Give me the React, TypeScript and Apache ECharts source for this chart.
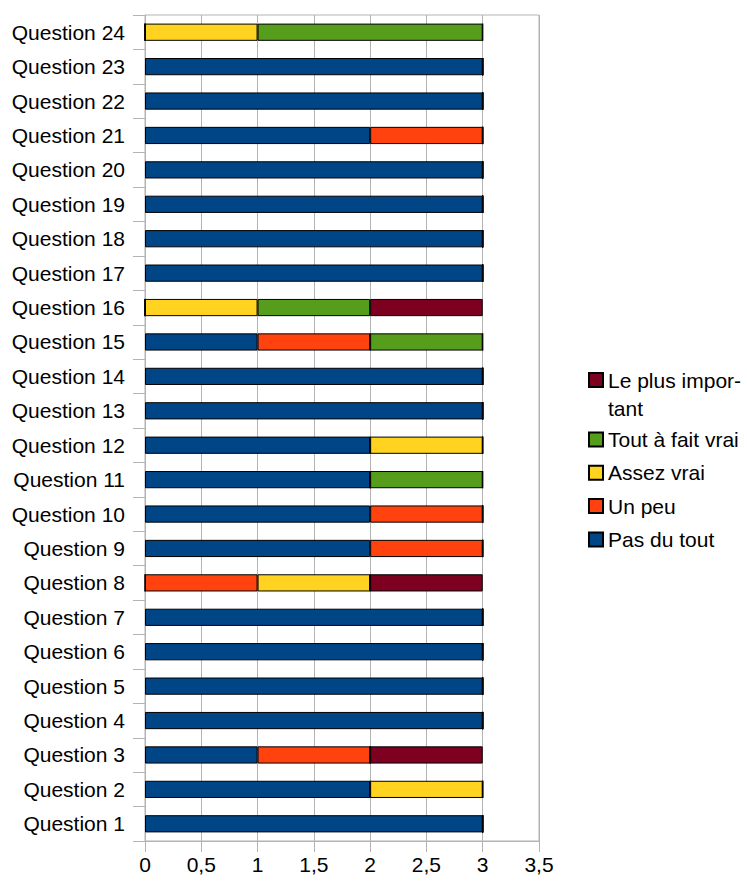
import React, { useEffect, useRef } from "react";
import * as echarts from "echarts";

const categories = Array.from({ length: 24 }, (_, i) => `Question ${i + 1}`);

// values per question (Question 1 .. Question 24)
const pasDuTout = [3, 2, 1, 3, 3, 3, 3, 0, 2, 2, 2, 2, 3, 3, 1, 0, 3, 3, 3, 3, 2, 3, 3, 0];
const unPeu = [0, 0, 1, 0, 0, 0, 0, 1, 1, 1, 0, 0, 0, 0, 1, 0, 0, 0, 0, 0, 1, 0, 0, 0];
const assezVrai = [0, 1, 0, 0, 0, 0, 0, 1, 0, 0, 0, 1, 0, 0, 0, 1, 0, 0, 0, 0, 0, 0, 0, 1];
const toutAFaitVrai = [0, 0, 0, 0, 0, 0, 0, 0, 0, 0, 1, 0, 0, 0, 1, 1, 0, 0, 0, 0, 0, 0, 0, 2];
const lePlusImportant = [0, 0, 1, 0, 0, 0, 0, 1, 0, 0, 0, 0, 0, 0, 0, 1, 0, 0, 0, 0, 0, 0, 0, 0];

const seriesNames = ["Pas du tout", "Un peu", "Assez vrai", "Tout à fait vrai", "Le plus important"];
const seriesColors = ["#004586", "#ff420e", "#ffd320", "#579d1c", "#7e0021"];
const seriesValues = [pasDuTout, unPeu, assezVrai, toutAFaitVrai, lePlusImportant];

const FONT = "Liberation Sans, Arial, sans-serif";
const GRAY = "#b3b3b3";
const FS = 21;

export default function App() {
  const ref = useRef<HTMLDivElement>(null);
  useEffect(() => {
    if (!ref.current) return;
    const chart = echarts.init(ref.current, undefined, { renderer: "svg" });
    chart.setOption({
      animation: false,
      textStyle: { fontFamily: FONT },
      grid: {
        left: 145,
        top: 15,
        width: 394,
        height: 826,
        show: true,
        borderColor: GRAY,
        borderWidth: 1,
        containLabel: false,
      },
      xAxis: {
        type: "value",
        min: 0,
        max: 3.5,
        interval: 0.5,
        axisLine: { show: true, lineStyle: { color: GRAY } },
        axisTick: { show: true, length: 11, lineStyle: { color: GRAY } },
        splitLine: { show: true, lineStyle: { color: GRAY } },
        axisLabel: {
          color: "#000",
          fontSize: FS,
          fontFamily: FONT,
          margin: 13,
          formatter: (v: number) => String(v).replace(".", ","),
        },
      },
      yAxis: {
        type: "category",
        data: categories,
        axisLine: { show: true, lineStyle: { color: GRAY } },
        axisTick: { show: true, length: 12, lineStyle: { color: GRAY } },
        splitLine: { show: false },
        axisLabel: { color: "#000", fontSize: FS, fontFamily: FONT, margin: 20 },
      },
      legend: [
        {
          orient: "vertical",
          left: 583,
          top: 333,
          icon: "rect",
          itemWidth: 14,
          itemHeight: 14,
          itemGap: 0,
          data: ["Le plus important"],
          formatter: () => "\nLe plus impor-\ntant",
          textStyle: {
            fontSize: FS,
            fontFamily: FONT,
            color: "#000",
            lineHeight: 28,
          },
        },
        {
          orient: "vertical",
          left: 583,
          top: 424,
          icon: "rect",
          itemWidth: 14,
          itemHeight: 14,
          itemGap: 12.3,
          data: ["Tout à fait vrai", "Assez vrai", "Un peu", "Pas du tout"],
          textStyle: { fontSize: FS, fontFamily: FONT, color: "#000", lineHeight: 20 },
        },
      ],
      series: seriesNames.map((name, i) => ({
        name,
        type: "bar",
        stack: "total",
        barWidth: "50%",
        data: seriesValues[i],
        itemStyle: { color: seriesColors[i], borderColor: "#000", borderWidth: 1 },
      })),
    });
    return () => chart.dispose();
  }, []);
  return (
    <div
      ref={ref}
      style={{ position: "fixed", left: 0, top: 0, width: 747, height: 884, background: "#fff" }}
    />
  );
}
